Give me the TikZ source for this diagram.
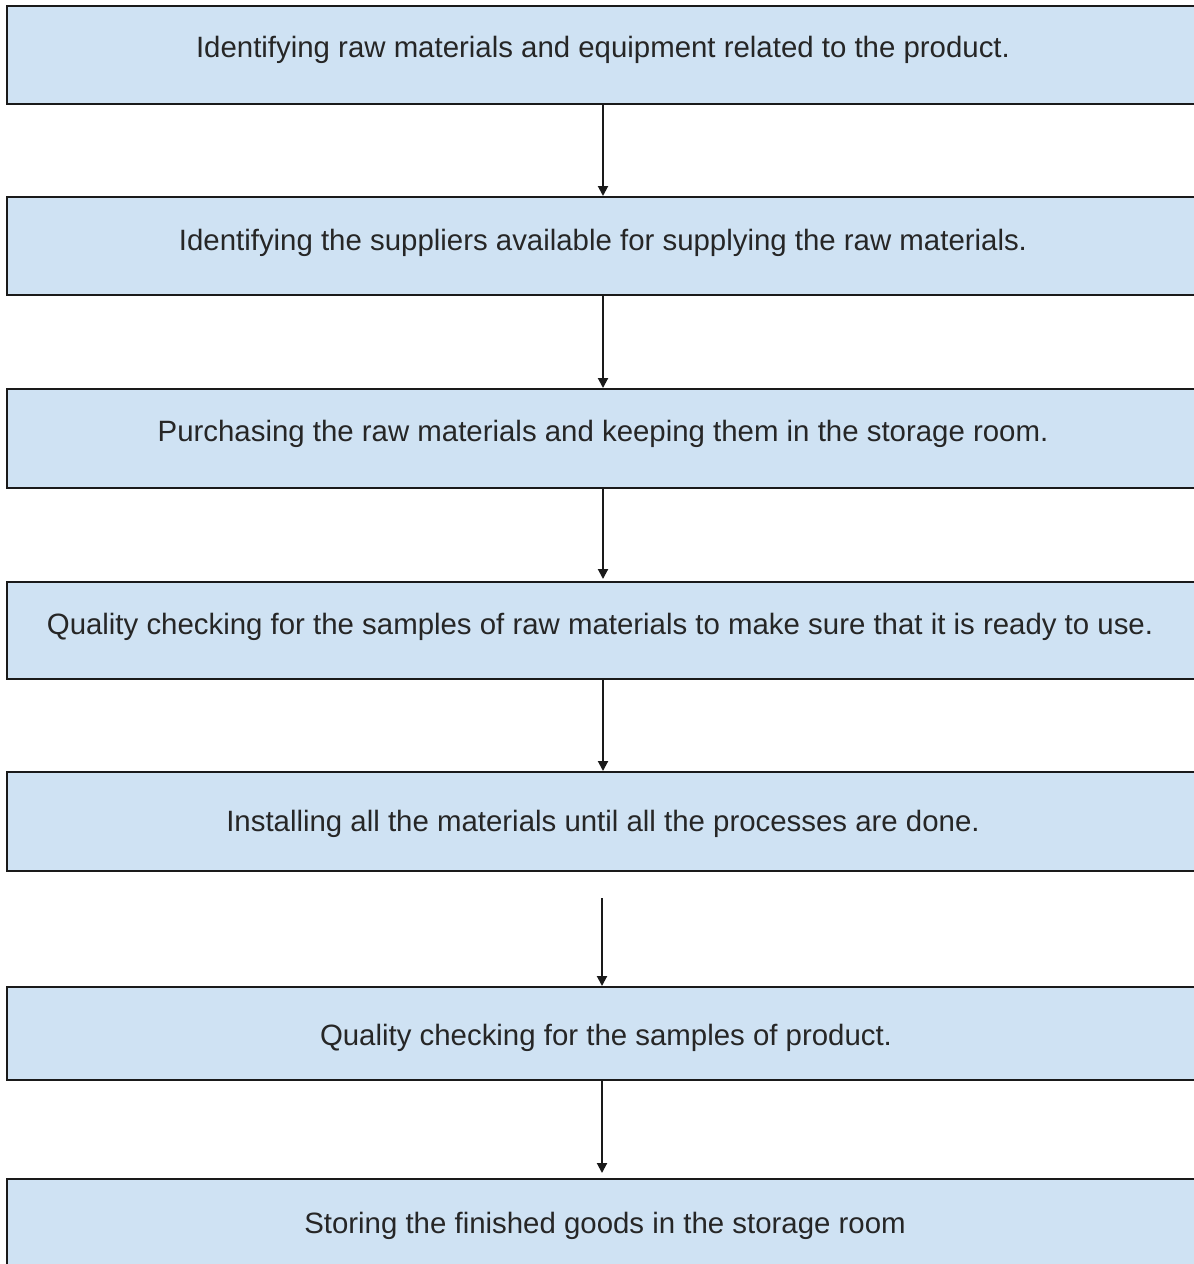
\documentclass[tikz,border=0pt]{standalone}
\usepackage{fontspec}
\setmainfont{Liberation Sans}
\usetikzlibrary{arrows.meta}
\definecolor{boxfill}{HTML}{CFE2F3}
\definecolor{edge}{HTML}{1A1A1A}
\begin{document}
\begin{tikzpicture}[x=1pt,y=-1pt,
  stepbox/.style={draw=edge,line width=2pt,fill=boxfill,rectangle,inner sep=0pt},
  steptext/.style={font=\fontsize{29.4}{34}\selectfont,text=black!85,inner sep=0pt},
  conn/.style={draw=edge,line width=2pt,-{Triangle[length=10pt,width=10pt]}}]
\useasboundingbox (0,0) rectangle (1194,1264);
\clip (0,0) rectangle (1194,1264);
\fill[white] (0,0) rectangle (1194,1264);
\node[stepbox,minimum width=1196pt,minimum height=98pt] (b1) at (605,55) {};
\node[stepbox,minimum width=1196pt,minimum height=98pt] (b2) at (605,246) {};
\node[stepbox,minimum width=1196pt,minimum height=99pt] (b3) at (605,438.5) {};
\node[stepbox,minimum width=1196pt,minimum height=97pt] (b4) at (605,630.5) {};
\node[stepbox,minimum width=1196pt,minimum height=99pt] (b5) at (605,821.5) {};
\node[stepbox,minimum width=1196pt,minimum height=93pt] (b6) at (605,1033.5) {};
\node[stepbox,minimum width=1196pt,minimum height=120pt] (b7) at (605,1239) {};
\node[steptext] (t1) at (603,50) {Identifying raw materials and equipment related to the product.};
\node[steptext] (t2) at (603,243) {Identifying the suppliers available for supplying the raw materials.};
\node[steptext] (t3) at (603,434) {Purchasing the raw materials and keeping them in the storage room.};
\node[steptext] (t4) at (600,627) {Quality checking for the samples of raw materials to make sure that it is ready to use.};
\node[steptext] (t5) at (603,824) {Installing all the materials until all the processes are done.};
\node[steptext] (t6) at (606,1038) {Quality checking for the samples of product.};
\node[steptext] (t7) at (605,1226) {Storing the finished goods in the storage room};
\coordinate (a5s) at (602,898);
\coordinate (a6e) at (602,1173);
\draw[conn] (b1.south -| 603,0) -- (b2.north -| 603,0);
\draw[conn] (b2.south -| 603,0) -- (b3.north -| 603,0);
\draw[conn] (b3.south -| 603,0) -- ([yshift=2pt]b4.north -| 603,0);
\draw[conn] (b4.south -| 603,0) -- (b5.north -| 603,0);
\draw[conn] (a5s) -- (b6.north -| 602,0);
\draw[conn] (b6.south -| 602,0) -- (a6e);
\end{tikzpicture}
\end{document}
